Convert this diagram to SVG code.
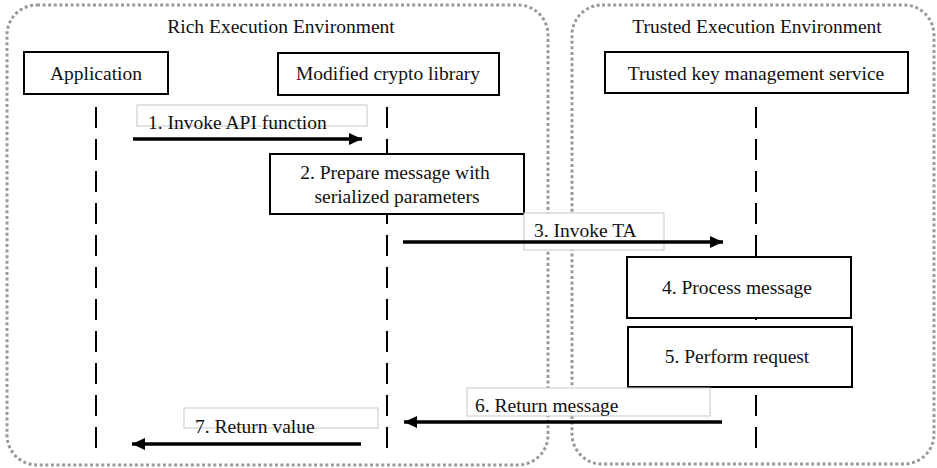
<svg xmlns="http://www.w3.org/2000/svg" width="937" height="468" viewBox="0 0 937 468">
<style>
  text { font-family: "Liberation Serif", "Times New Roman", serif; font-size: 19.5px; fill: #111; }
  .mid { text-anchor: middle; }
  .env { fill: none; stroke: #9a9a9a; stroke-width: 3; stroke-dasharray: 3 2.6; }
  .box { fill: #fff; stroke: #000; stroke-width: 2; }
  .life { fill: none; stroke: #000; stroke-width: 2; stroke-dasharray: 21 11; }
  .lbl { fill: #fff; stroke: #c8c8c8; stroke-width: 1; }
  .msg { fill: none; stroke: #000; stroke-width: 3.5; marker-end: url(#head); }
</style>
<defs>
  <marker id="head" markerUnits="userSpaceOnUse" markerWidth="14" markerHeight="14" viewBox="0 0 14 14" refX="13" refY="7" orient="auto">
    <path d="M0,1 L13,7 L0,13 Z" fill="#000"/>
  </marker>
</defs>
<rect width="937" height="468" fill="#fff"/>

<g id="rich-execution-environment">
  <rect class="env" x="7" y="5" width="541" height="460" rx="30" ry="30"/>
  <text class="mid" x="281" y="33">Rich Execution Environment</text>
</g>
<g id="trusted-execution-environment">
  <rect class="env" x="572" y="5" width="362" height="459" rx="30" ry="30"/>
  <text class="mid" x="757" y="33">Trusted Execution Environment</text>
</g>

<g id="lifelines">
  <line class="life" x1="96" y1="107" x2="96" y2="456"/>
  <line class="life" x1="387" y1="107" x2="387" y2="456"/>
  <line class="life" x1="756" y1="107" x2="756" y2="456"/>
</g>

<g id="application">
  <rect class="box" x="24" y="52" width="144" height="42"/>
  <text class="mid" x="96" y="80">Application</text>
</g>
<g id="modified-crypto-library">
  <rect class="box" x="278" y="53" width="221" height="42"/>
  <text class="mid" x="388" y="80">Modified crypto library</text>
</g>
<g id="trusted-key-management-service">
  <rect class="box" x="605" y="52" width="303" height="41"/>
  <text class="mid" x="756" y="80">Trusted key management service</text>
</g>
<g id="step2-prepare-message">
  <rect class="box" x="270" y="154" width="254" height="60"/>
  <text class="mid" x="395" y="179">2. Prepare message with</text>
  <text class="mid" x="397" y="203">serialized parameters</text>
</g>
<g id="step4-process-message">
  <rect class="box" x="627" y="257" width="224" height="61"/>
  <text class="mid" x="737" y="294">4. Process message</text>
</g>
<g id="step5-perform-request">
  <rect class="box" x="628" y="327" width="224" height="60"/>
  <text class="mid" x="737" y="363">5. Perform request</text>
</g>

<g id="connectors">
  <g id="msg1">
    <rect class="lbl" x="137" y="105" width="230" height="21"/>
    <text x="148" y="129">1. Invoke API function</text>
    <line class="msg" x1="133" y1="139" x2="362" y2="139"/>
  </g>
  <g id="msg3">
    <rect class="lbl" x="524" y="213" width="140" height="37"/>
    <text x="534" y="237">3. Invoke TA</text>
    <line class="msg" x1="403" y1="242" x2="723" y2="242"/>
  </g>
  <g id="msg6">
    <rect class="lbl" x="467" y="388" width="243" height="28"/>
    <text x="475" y="412">6. Return message</text>
    <line class="msg" x1="722" y1="422" x2="404" y2="422"/>
  </g>
  <g id="msg7">
    <rect class="lbl" x="184" y="408" width="194" height="20"/>
    <text x="195" y="433">7. Return value</text>
    <line class="msg" x1="361" y1="444" x2="132" y2="444"/>
  </g>
</g>
</svg>
